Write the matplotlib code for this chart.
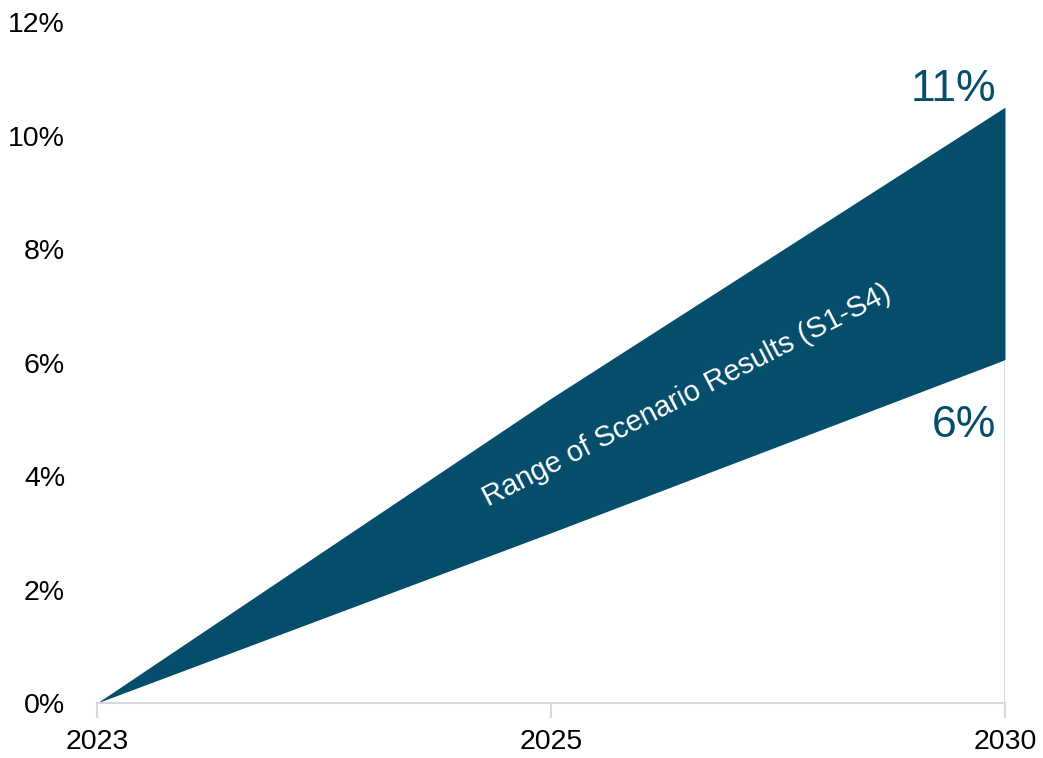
import numpy as np
import matplotlib.pyplot as plt

years = ['2023', '2025', '2030']
low = [0.0, 3.0, 6.05]
high = [0.0, 5.37, 10.5]
end_labels = ['11%', '6%']
yticks = [0, 2, 4, 6, 8, 10, 12]

navy = '#044E6C'

plt.rcParams['font.family'] = ['Liberation Sans', 'DejaVu Sans']

fig = plt.figure(figsize=(10.43, 7.58), dpi=100)
ax = fig.add_axes([97 / 1043, 1 - 703 / 758, (1005 - 97) / 1043, (703 - 22) / 758])

x = np.arange(len(years))
ax.fill_between(x, low, high, color=navy, linewidth=0)
ax.vlines(x[-1], 0, low[-1], color='#C9D6DF', linewidth=1.2)

ax.set_xlim(x[0], x[-1])
ax.set_ylim(0, 12)
ax.set_xticks(x)
ax.set_xticklabels(years, fontsize=20.5)
ax.set_yticks(yticks)
ax.set_yticklabels([f'{v}%' for v in yticks], fontsize=20.5)
ax.tick_params(axis='y', length=0, pad=23)
ax.tick_params(axis='x', length=11, width=1.5, color='#D9D9D9', pad=8)

for s in ['top', 'right', 'left']:
    ax.spines[s].set_visible(False)
ax.spines['bottom'].set_color('#D9D9D9')
ax.spines['bottom'].set_linewidth(1.5)
ax.spines['bottom'].set_clip_on(False)

ax.text(x[-1] - 0.02, high[-1] - 0.05, end_labels[0], fontsize=32,
        color=navy, ha='right', va='bottom')
ax.text(x[-1] - 0.02, low[-1] - 0.8, end_labels[1], fontsize=32,
        color=navy, ha='right', va='top')

ax.text(1.3, 5.42, 'Range of Scenario Results (S1-S4)', fontsize=21, color='white',
        rotation=27.2, rotation_mode='anchor', ha='center', va='center')

fig.savefig('out.png', dpi=100)
